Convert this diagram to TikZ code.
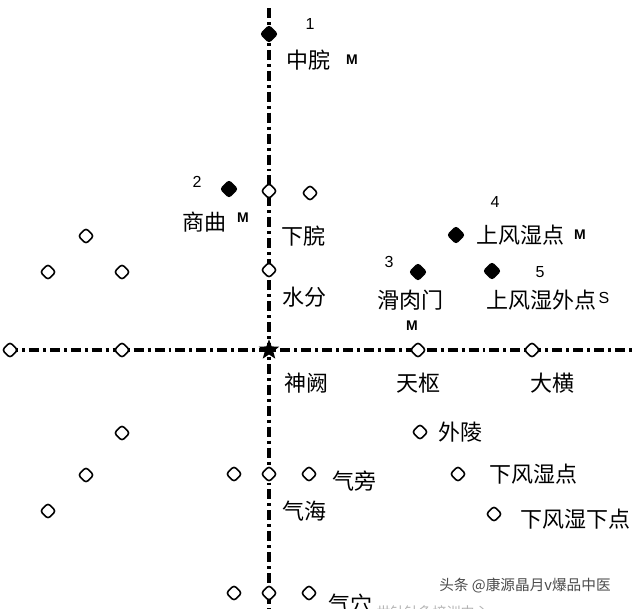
\documentclass[tikz,border=0pt]{standalone}
\usepackage{fontspec}
\setmainfont{Liberation Sans}
\newfontfamily\cjk{Noto Sans CJK SC}
\usetikzlibrary{shapes.geometric}

\tikzset{
  axisline/.style={line width=2.6pt, dash pattern=on 7.5pt off 3pt on 2.2pt off 3pt},
  openpt/.style={diamond, draw, fill=white, line width=1.2pt, minimum size=12pt, inner sep=0pt, rounded corners=2pt},
  fullpt/.style={openpt, fill=black, minimum size=13pt},
  acu/.style={font=\cjk\fontsize{16.5}{18}\selectfont},
  num/.style={font=\fontsize{12}{14}\selectfont},
  tag/.style={font=\bfseries\fontsize{10.5}{12}\selectfont},
}

\begin{document}
\begin{tikzpicture}[x=0.75pt,y=0.75pt,yscale=-1,xscale=1]
\useasboundingbox (0,0) rectangle (634,608);
\clip (0,0) rectangle (634,608);
\fill[white] (0,0) rectangle (634,608);

% axes
\coordinate (top) at (269,8);
\coordinate (bottom) at (269,620);
\coordinate (left) at (8,350);
\coordinate (right) at (640,350);
\draw[axisline] (top) -- (bottom);
\draw[axisline] (left) -- (right);

% upper points
\node[fullpt] (p1) at (269,34) {};
\node[num] at (310,24) {1};
\node[acu] (zhongwan) at (308,60) {中脘};
\node[tag] at (352,60) {M};

\node[fullpt] (p2) at (229,189) {};
\node[num] at (197,182) {2};
\node[acu] (shangqu) at (204,222) {商曲};
\node[tag] at (243,218) {M};

\node[openpt] (xw) at (269,191) {};
\node[openpt] (xwr) at (310,193) {};
\node[acu] (xiawan) at (303,236) {下脘};
\node[openpt] (sf) at (269,270) {};
\node[acu] (shuifen) at (304,297) {水分};

\node[openpt] (ul1) at (86,236) {};
\node[openpt] (ul2) at (48,272) {};
\node[openpt] (ul3) at (122,272) {};

\node[fullpt] (p3) at (418,272) {};
\node[num] at (389,262) {3};
\node[acu] (huaroumen) at (410,300) {滑肉门};
\node[tag] at (412,326) {M};

\node[fullpt] (p4) at (456,235) {};
\node[num] at (495,202) {4};
\node[acu] (sfsd) at (520,235) {上风湿点};
\node[tag] at (580,235) {M};

\node[fullpt] (p5) at (492,271) {};
\node[num] at (540,272) {5};
\node[acu] (sfswd) at (541,300) {上风湿外点};
\node[font=\fontsize{12}{14}\selectfont] at (604,298) {S};

% horizontal line
\node[openpt] (h1) at (10,350) {};
\node[openpt] (h2) at (122,350) {};
\node[star, star points=5, star point ratio=2.4, fill=black, minimum size=16pt, inner sep=0pt] (shenque) at (269,350) {};
\node[openpt] (tianshu) at (418,350) {};
\node[openpt] (daheng) at (532,350) {};
\node[acu] at (306,383) {神阙};
\node[acu] at (418,383) {天枢};
\node[acu] at (552,383) {大横};

% lower points
\node[openpt] (ll1) at (122,433) {};
\node[openpt] (ll2) at (86,475) {};
\node[openpt] (ll3) at (48,511) {};

\node[openpt] (wailing) at (420,432) {};
\node[acu] at (460,432) {外陵};

\node[openpt] (qp1) at (234,474) {};
\node[openpt] (qihai) at (269,474) {};
\node[openpt] (qp2) at (309,474) {};
\node[acu] at (354,481) {气旁};
\node[acu] at (304,511) {气海};

\node[openpt] (xfsd) at (458,474) {};
\node[acu] at (533,474) {下风湿点};
\node[openpt] (xfsxd) at (494,514) {};
\node[acu] at (575,519) {下风湿下点};

\node[openpt] (qx1) at (234,593) {};
\node[openpt] (qixue) at (269,593) {};
\node[openpt] (qx2) at (309,593) {};
\node[acu] at (350,604) {气穴};

% watermark
\node[font=\cjk\fontsize{10.5}{12}\selectfont, text=black!30, anchor=west] at (372,612) {世针针灸培训中心};
\node[font=\cjk\fontsize{11}{12}\selectfont, text=black!70] at (525,586) {头条 @康源晶月v爆品中医};

\end{tikzpicture}
\end{document}
